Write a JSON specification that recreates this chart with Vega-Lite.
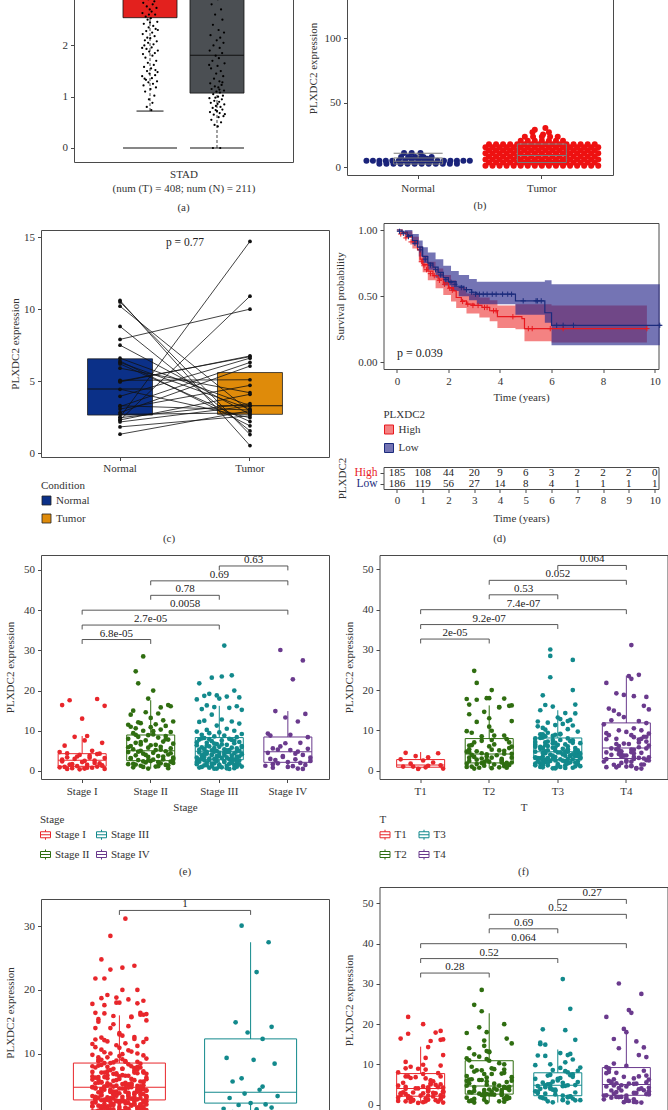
{
"$schema": "https://vega.github.io/schema/vega-lite/v6.json",
"padding": {"left": 3, "top": -40, "right": 0, "bottom": 0},
"background": "white",
"config": {
  "font": "Liberation Serif",
  "view": {"stroke": "#4a4a4a", "strokeWidth": 1},
  "axis": {"domain": false, "grid": false, "ticks": true, "tickSize": 3.5, "tickColor": "#4a4a4a", "tickWidth": 1, "labelFontSize": 11, "labelColor": "#333333", "labelPadding": 3, "titleFontSize": 11, "titleFontWeight": "normal", "titleColor": "#333333", "titlePadding": 5},
  "axisX": {"labelAngle": 0},
  "legend": {"titleFontSize": 11, "titleFontWeight": "normal", "titleColor": "#333333", "labelFontSize": 11, "labelColor": "#333333", "titlePadding": 4, "rowPadding": 5, "padding": 0, "symbolStrokeWidth": 1},
  "title": {"fontSize": 11, "fontWeight": "normal", "color": "#333333"}
},
"datasets": {
  "aBox": [{"g":"T","q1":2.54,"q3":3.6,"med":3.25,"lo":0.72},{"g":"N","q1":1.07,"q3":3.5,"med":1.81,"lo":0}],
  "aPts": [
{"g":"T","v":0.74,"j":0.5},{"g":"T","v":0.8,"j":-1.2},{"g":"T","v":0.88,"j":0.9},{"g":"T","v":0.95,"j":-0.4},{"g":"T","v":1.02,"j":1.6},{"g":"T","v":1.1,"j":-1.8},{"g":"T","v":1.15,"j":0.2},{"g":"T","v":1.18,"j":2.2},{"g":"T","v":1.22,"j":-2.4},{"g":"T","v":1.25,"j":1.1},{"g":"T","v":1.28,"j":-0.6},{"g":"T","v":1.3,"j":2.6},{"g":"T","v":1.33,"j":-1.5},{"g":"T","v":1.36,"j":0.7},{"g":"T","v":1.4,"j":-2.9},{"g":"T","v":1.42,"j":1.9},{"g":"T","v":1.45,"j":-0.2},{"g":"T","v":1.48,"j":2.8},{"g":"T","v":1.5,"j":-1.1},{"g":"T","v":1.55,"j":0.4},{"g":"T","v":1.58,"j":-2.2},{"g":"T","v":1.62,"j":1.4},{"g":"T","v":1.66,"j":-0.8},{"g":"T","v":1.7,"j":2.3},{"g":"T","v":1.76,"j":-1.7},{"g":"T","v":1.8,"j":0.9},{"g":"T","v":1.83,"j":-2.6},{"g":"T","v":1.85,"j":1.8},{"g":"T","v":1.88,"j":-0.3},{"g":"T","v":1.9,"j":2.9},{"g":"T","v":1.93,"j":-1.3},{"g":"T","v":1.96,"j":0.6},{"g":"T","v":2.0,"j":-2.1},{"g":"T","v":2.02,"j":1.3},{"g":"T","v":2.05,"j":-0.7},{"g":"T","v":2.08,"j":2.5},{"g":"T","v":2.1,"j":-1.9},{"g":"T","v":2.14,"j":0.1},{"g":"T","v":2.18,"j":1.7},{"g":"T","v":2.22,"j":-2.7},{"g":"T","v":2.25,"j":0.8},{"g":"T","v":2.28,"j":-1.4},{"g":"T","v":2.32,"j":2.1},{"g":"T","v":2.35,"j":-0.5},{"g":"T","v":2.38,"j":1.2},{"g":"T","v":2.42,"j":-2.3},{"g":"T","v":2.46,"j":2.7},{"g":"T","v":2.5,"j":-0.9},{"g":"T","v":2.53,"j":0.3},{"g":"T","v":2.56,"j":-1.6},{"g":"T","v":2.6,"j":1.9},{"g":"T","v":2.63,"j":-2.8},{"g":"T","v":2.66,"j":0.6},{"g":"T","v":2.7,"j":-0.1},{"g":"T","v":2.73,"j":2.4},{"g":"T","v":2.76,"j":-1.2},{"g":"T","v":2.8,"j":1.0},{"g":"T","v":2.83,"j":-2.5},{"g":"T","v":2.86,"j":1.6},{"g":"T","v":2.9,"j":-0.6},{"g":"T","v":2.95,"j":2.2},{"g":"T","v":3.0,"j":-1.8},{"g":"T","v":3.1,"j":0.5},{"g":"T","v":3.2,"j":-2.0},{"g":"T","v":3.3,"j":1.5},{"g":"T","v":1.52,"j":2.0},{"g":"T","v":1.95,"j":-2.9},{"g":"T","v":2.3,"j":2.9},{"g":"T","v":2.6,"j":-0.4},{"g":"T","v":2.15,"j":-1.0},{"g":"T","v":1.35,"j":-2.0},{"g":"T","v":2.45,"j":0.0},
{"g":"N","v":0,"j":-1.5},{"g":"N","v":0,"j":1.2},{"g":"N","v":0.42,"j":0.3},{"g":"N","v":0.45,"j":-0.9},{"g":"N","v":0.5,"j":1.5},{"g":"N","v":0.55,"j":-2.1},{"g":"N","v":0.6,"j":0.6},{"g":"N","v":0.62,"j":2.4},{"g":"N","v":0.65,"j":-1.2},{"g":"N","v":0.68,"j":1.0},{"g":"N","v":0.7,"j":-2.6},{"g":"N","v":0.72,"j":0.0},{"g":"N","v":0.75,"j":2.0},{"g":"N","v":0.78,"j":-1.6},{"g":"N","v":0.8,"j":1.3},{"g":"N","v":0.82,"j":-0.4},{"g":"N","v":0.85,"j":2.7},{"g":"N","v":0.88,"j":-2.3},{"g":"N","v":0.9,"j":0.8},{"g":"N","v":0.92,"j":-1.0},{"g":"N","v":0.95,"j":1.8},{"g":"N","v":0.97,"j":-2.8},{"g":"N","v":1.0,"j":0.4},{"g":"N","v":1.02,"j":2.2},{"g":"N","v":1.05,"j":-1.4},{"g":"N","v":1.08,"j":1.1},{"g":"N","v":1.1,"j":-0.2},{"g":"N","v":1.12,"j":2.6},{"g":"N","v":1.15,"j":-2.0},{"g":"N","v":1.18,"j":0.5},{"g":"N","v":1.2,"j":-0.8},{"g":"N","v":1.23,"j":1.7},{"g":"N","v":1.26,"j":-2.5},{"g":"N","v":1.3,"j":0.9},{"g":"N","v":1.35,"j":-1.1},{"g":"N","v":1.4,"j":2.3},{"g":"N","v":1.45,"j":-0.3},{"g":"N","v":1.5,"j":1.4},{"g":"N","v":1.55,"j":-2.2},{"g":"N","v":1.6,"j":0.2},{"g":"N","v":1.65,"j":2.8},{"g":"N","v":1.7,"j":-1.7},{"g":"N","v":1.75,"j":0.7},{"g":"N","v":1.8,"j":-0.5},{"g":"N","v":1.85,"j":1.9},{"g":"N","v":1.9,"j":-2.7},{"g":"N","v":1.95,"j":1.0},{"g":"N","v":2.0,"j":-1.3},{"g":"N","v":2.05,"j":2.4},{"g":"N","v":2.1,"j":-0.1},{"g":"N","v":2.15,"j":1.2},{"g":"N","v":2.2,"j":-2.4},{"g":"N","v":2.3,"j":0.6},{"g":"N","v":2.4,"j":-1.5},{"g":"N","v":2.5,"j":2.0},{"g":"N","v":2.6,"j":-0.7},{"g":"N","v":2.7,"j":1.5},{"g":"N","v":2.8,"j":-2.0},{"g":"N","v":2.9,"j":0.3},{"g":"N","v":3.0,"j":-1.0},{"g":"N","v":3.2,"j":1.8},{"g":"N","v":3.4,"j":-0.4},{"g":"N","v":0.98,"j":-0.6},{"g":"N","v":0.86,"j":0.2},{"g":"N","v":0.74,"j":-0.5},{"g":"N","v":1.14,"j":0.9},{"g":"N","v":1.28,"j":2.0},{"g":"N","v":0.66,"j":2.9},{"g":"N","v":1.62,"j":-2.9},{"g":"N","v":2.25,"j":2.6}
  ],
  "bPts": [
{"g":"N","v":10.8,"j":-2.4},{"g":"N","v":10.8,"j":-1.1},{"g":"N","v":10.8,"j":0.4},{"g":"N","v":7.8,"j":-2.9},{"g":"N","v":7.8,"j":-1.7},{"g":"N","v":7.8,"j":-0.5},{"g":"N","v":7.8,"j":0.9},{"g":"N","v":7.8,"j":2.3},{"g":"N","v":6.4,"j":-1.1},{"g":"N","v":6.4,"j":0.2},{"g":"N","v":6.4,"j":1.5},
{"g":"N","v":4.9,"j":-8.8},{"g":"N","v":4.9,"j":-7.7},{"g":"N","v":4.9,"j":-6.6},{"g":"N","v":4.9,"j":-5.5},{"g":"N","v":4.9,"j":-4.4},{"g":"N","v":4.9,"j":-3.3},{"g":"N","v":4.9,"j":-2.2},{"g":"N","v":4.9,"j":-1.1},{"g":"N","v":4.9,"j":0},{"g":"N","v":4.9,"j":1.1},{"g":"N","v":4.9,"j":2.2},{"g":"N","v":4.9,"j":3.3},{"g":"N","v":4.9,"j":4.4},{"g":"N","v":4.9,"j":5.5},{"g":"N","v":4.9,"j":6.6},{"g":"N","v":4.9,"j":7.7},{"g":"N","v":4.9,"j":8.8},
{"g":"N","v":2.5,"j":-6.6},{"g":"N","v":2.5,"j":-5.4},{"g":"N","v":2.5,"j":-4.2},{"g":"N","v":2.5,"j":-3.0},{"g":"N","v":2.5,"j":-1.8},{"g":"N","v":2.5,"j":-0.6},{"g":"N","v":2.5,"j":0.6},{"g":"N","v":2.5,"j":1.8},{"g":"N","v":2.5,"j":3.0},{"g":"N","v":2.5,"j":4.2},{"g":"N","v":2.5,"j":5.4},{"g":"N","v":2.5,"j":6.6},
{"g":"T","v":1.0,"j":-9.6},{"g":"T","v":1.0,"j":-8.4},{"g":"T","v":1.0,"j":-7.2},{"g":"T","v":1.0,"j":-6},{"g":"T","v":1.0,"j":-4.8},{"g":"T","v":1.0,"j":-3.6},{"g":"T","v":1.0,"j":-2.4},{"g":"T","v":1.0,"j":-1.2},{"g":"T","v":1.0,"j":0},{"g":"T","v":1.0,"j":1.2},{"g":"T","v":1.0,"j":2.4},{"g":"T","v":1.0,"j":3.6},{"g":"T","v":1.0,"j":4.8},{"g":"T","v":1.0,"j":6},{"g":"T","v":1.0,"j":7.2},{"g":"T","v":1.0,"j":8.4},{"g":"T","v":1.0,"j":9.6},
{"g":"T","v":3.4,"j":-9},{"g":"T","v":3.4,"j":-7.8},{"g":"T","v":3.4,"j":-6.6},{"g":"T","v":3.4,"j":-5.4},{"g":"T","v":3.4,"j":-4.2},{"g":"T","v":3.4,"j":-3},{"g":"T","v":3.4,"j":-1.8},{"g":"T","v":3.4,"j":-0.6},{"g":"T","v":3.4,"j":0.6},{"g":"T","v":3.4,"j":1.8},{"g":"T","v":3.4,"j":3},{"g":"T","v":3.4,"j":4.2},{"g":"T","v":3.4,"j":5.4},{"g":"T","v":3.4,"j":6.6},{"g":"T","v":3.4,"j":7.8},{"g":"T","v":3.4,"j":9},
{"g":"T","v":5.8,"j":-9.6},{"g":"T","v":5.8,"j":-8.4},{"g":"T","v":5.8,"j":-7.2},{"g":"T","v":5.8,"j":-6},{"g":"T","v":5.8,"j":-4.8},{"g":"T","v":5.8,"j":-3.6},{"g":"T","v":5.8,"j":-2.4},{"g":"T","v":5.8,"j":-1.2},{"g":"T","v":5.8,"j":0},{"g":"T","v":5.8,"j":1.2},{"g":"T","v":5.8,"j":2.4},{"g":"T","v":5.8,"j":3.6},{"g":"T","v":5.8,"j":4.8},{"g":"T","v":5.8,"j":6},{"g":"T","v":5.8,"j":7.2},{"g":"T","v":5.8,"j":8.4},{"g":"T","v":5.8,"j":9.6},
{"g":"T","v":8.2,"j":-9},{"g":"T","v":8.2,"j":-7.8},{"g":"T","v":8.2,"j":-6.6},{"g":"T","v":8.2,"j":-5.4},{"g":"T","v":8.2,"j":-4.2},{"g":"T","v":8.2,"j":-3},{"g":"T","v":8.2,"j":-1.8},{"g":"T","v":8.2,"j":-0.6},{"g":"T","v":8.2,"j":0.6},{"g":"T","v":8.2,"j":1.8},{"g":"T","v":8.2,"j":3},{"g":"T","v":8.2,"j":4.2},{"g":"T","v":8.2,"j":5.4},{"g":"T","v":8.2,"j":6.6},{"g":"T","v":8.2,"j":7.8},{"g":"T","v":8.2,"j":9},
{"g":"T","v":10.6,"j":-9.6},{"g":"T","v":10.6,"j":-8.4},{"g":"T","v":10.6,"j":-7.2},{"g":"T","v":10.6,"j":-6},{"g":"T","v":10.6,"j":-4.8},{"g":"T","v":10.6,"j":-3.6},{"g":"T","v":10.6,"j":-2.4},{"g":"T","v":10.6,"j":-1.2},{"g":"T","v":10.6,"j":0},{"g":"T","v":10.6,"j":1.2},{"g":"T","v":10.6,"j":2.4},{"g":"T","v":10.6,"j":3.6},{"g":"T","v":10.6,"j":4.8},{"g":"T","v":10.6,"j":6},{"g":"T","v":10.6,"j":7.2},{"g":"T","v":10.6,"j":8.4},{"g":"T","v":10.6,"j":9.6},
{"g":"T","v":13.0,"j":-9},{"g":"T","v":13.0,"j":-7.8},{"g":"T","v":13.0,"j":-6.6},{"g":"T","v":13.0,"j":-5.4},{"g":"T","v":13.0,"j":-4.2},{"g":"T","v":13.0,"j":-3},{"g":"T","v":13.0,"j":-1.8},{"g":"T","v":13.0,"j":-0.6},{"g":"T","v":13.0,"j":0.6},{"g":"T","v":13.0,"j":1.8},{"g":"T","v":13.0,"j":3},{"g":"T","v":13.0,"j":4.2},{"g":"T","v":13.0,"j":5.4},{"g":"T","v":13.0,"j":6.6},{"g":"T","v":13.0,"j":7.8},{"g":"T","v":13.0,"j":9},
{"g":"T","v":15.4,"j":-9.6},{"g":"T","v":15.4,"j":-8.4},{"g":"T","v":15.4,"j":-7.2},{"g":"T","v":15.4,"j":-6},{"g":"T","v":15.4,"j":-4.8},{"g":"T","v":15.4,"j":-3.6},{"g":"T","v":15.4,"j":-2.4},{"g":"T","v":15.4,"j":-1.2},{"g":"T","v":15.4,"j":0},{"g":"T","v":15.4,"j":1.2},{"g":"T","v":15.4,"j":2.4},{"g":"T","v":15.4,"j":3.6},{"g":"T","v":15.4,"j":4.8},{"g":"T","v":15.4,"j":6},{"g":"T","v":15.4,"j":7.2},{"g":"T","v":15.4,"j":8.4},{"g":"T","v":15.4,"j":9.6},
{"g":"T","v":17.6,"j":-9},{"g":"T","v":17.6,"j":-7.8},{"g":"T","v":17.6,"j":-6.6},{"g":"T","v":17.6,"j":-5.4},{"g":"T","v":17.6,"j":-4.2},{"g":"T","v":17.6,"j":-3},{"g":"T","v":17.6,"j":-1.8},{"g":"T","v":17.6,"j":-0.6},{"g":"T","v":17.6,"j":0.6},{"g":"T","v":17.6,"j":1.8},{"g":"T","v":17.6,"j":3},{"g":"T","v":17.6,"j":4.2},{"g":"T","v":17.6,"j":5.4},{"g":"T","v":17.6,"j":6.6},{"g":"T","v":17.6,"j":7.8},{"g":"T","v":17.6,"j":9},
{"g":"T","v":20.4,"j":-3.6},{"g":"T","v":20.4,"j":-2.4},{"g":"T","v":20.4,"j":-1.2},{"g":"T","v":20.4,"j":0},{"g":"T","v":20.4,"j":1.2},{"g":"T","v":20.4,"j":2.4},{"g":"T","v":20.4,"j":3.6},
{"g":"T","v":23.5,"j":-2.9},{"g":"T","v":23.5,"j":-1.5},{"g":"T","v":23.5,"j":0},{"g":"T","v":23.5,"j":1.4},{"g":"T","v":23.5,"j":2.7},
{"g":"T","v":25.2,"j":0.2},{"g":"T","v":27.0,"j":-1.6},{"g":"T","v":27.0,"j":1.2},{"g":"T","v":28.9,"j":-1.2},{"g":"T","v":30.2,"j":0.6}
  ],
  "bBox": [{"g":"N","q1":2.3,"med":4.5,"q3":7.0,"hi":10.6},{"g":"T","q1":3.5,"med":9,"q3":17.8,"hi":17.8}],
  "cBox": [{"g":"Normal","q1":2.65,"med":4.45,"q3":6.55},{"g":"Tumor","q1":2.7,"med":3.3,"q3":5.6}],
  "cPts": [
{"p":1,"g":"Normal","v":2.5},{"p":1,"g":"Tumor","v":14.7},{"p":2,"g":"Normal","v":2.3},{"p":2,"g":"Tumor","v":10.9},{"p":3,"g":"Normal","v":7.9},{"p":3,"g":"Tumor","v":10.0},{"p":4,"g":"Normal","v":10.6},{"p":4,"g":"Tumor","v":0.53},{"p":5,"g":"Normal","v":10.5},{"p":5,"g":"Tumor","v":1.3},{"p":6,"g":"Normal","v":10.2},{"p":6,"g":"Tumor","v":2.9},{"p":7,"g":"Normal","v":8.8},{"p":7,"g":"Tumor","v":1.55},{"p":8,"g":"Normal","v":7.5},{"p":8,"g":"Tumor","v":2.7},{"p":9,"g":"Normal","v":6.6},{"p":9,"g":"Tumor","v":3.3},{"p":10,"g":"Normal","v":6.4},{"p":10,"g":"Tumor","v":1.9},{"p":11,"g":"Normal","v":6.3},{"p":11,"g":"Tumor","v":3.07},{"p":12,"g":"Normal","v":5.9},{"p":12,"g":"Tumor","v":4.2},{"p":13,"g":"Normal","v":5.06},{"p":13,"g":"Tumor","v":5.1},{"p":14,"g":"Normal","v":4.95},{"p":14,"g":"Tumor","v":6.75},{"p":15,"g":"Normal","v":4.44},{"p":15,"g":"Tumor","v":2.47},{"p":16,"g":"Normal","v":3.95},{"p":16,"g":"Tumor","v":6.6},{"p":17,"g":"Normal","v":3.24},{"p":17,"g":"Tumor","v":6.3},{"p":18,"g":"Normal","v":3.07},{"p":18,"g":"Tumor","v":4.71},{"p":19,"g":"Normal","v":2.82},{"p":19,"g":"Tumor","v":6.05},{"p":20,"g":"Normal","v":2.7},{"p":20,"g":"Tumor","v":2.8},{"p":21,"g":"Normal","v":2.47},{"p":21,"g":"Tumor","v":3.44},{"p":22,"g":"Normal","v":2.31},{"p":22,"g":"Tumor","v":4.09},{"p":23,"g":"Normal","v":2.17},{"p":23,"g":"Tumor","v":3.28},{"p":24,"g":"Normal","v":1.83},{"p":24,"g":"Tumor","v":2.6},{"p":25,"g":"Normal","v":1.32},{"p":25,"g":"Tumor","v":2.95},{"p":26,"g":"Normal","v":6.2},{"p":26,"g":"Tumor","v":2.2},{"p":27,"g":"Normal","v":3.3},{"p":27,"g":"Tumor","v":3.0},{"p":28,"g":"Normal","v":5.0},{"p":28,"g":"Tumor","v":6.7}
  ],
  "km": [
{"g":"High","t":0,"s":1},{"g":"High","t":0.2,"s":0.98},{"g":"High","t":0.4,"s":0.95},{"g":"High","t":0.6,"s":0.91},{"g":"High","t":0.8,"s":0.85},{"g":"High","t":0.9,"s":0.78},{"g":"High","t":1.0,"s":0.74},{"g":"High","t":1.2,"s":0.69},{"g":"High","t":1.4,"s":0.655},{"g":"High","t":1.6,"s":0.63},{"g":"High","t":1.8,"s":0.6},{"g":"High","t":2.0,"s":0.565},{"g":"High","t":2.2,"s":0.54},{"g":"High","t":2.3,"s":0.49},{"g":"High","t":2.5,"s":0.465},{"g":"High","t":2.7,"s":0.44},{"g":"High","t":3.0,"s":0.43},{"g":"High","t":3.3,"s":0.415},{"g":"High","t":3.6,"s":0.39},{"g":"High","t":3.9,"s":0.345},{"g":"High","t":4.85,"s":0.33},{"g":"High","t":4.95,"s":0.255},{"g":"High","t":9.7,"s":0.255},
{"g":"Low","t":0,"s":1},{"g":"Low","t":0.2,"s":0.985},{"g":"Low","t":0.4,"s":0.96},{"g":"Low","t":0.6,"s":0.92},{"g":"Low","t":0.8,"s":0.87},{"g":"Low","t":1.0,"s":0.8},{"g":"Low","t":1.2,"s":0.75},{"g":"Low","t":1.4,"s":0.72},{"g":"Low","t":1.6,"s":0.68},{"g":"Low","t":1.8,"s":0.64},{"g":"Low","t":2.0,"s":0.61},{"g":"Low","t":2.3,"s":0.575},{"g":"Low","t":2.6,"s":0.55},{"g":"Low","t":2.9,"s":0.53},{"g":"Low","t":3.1,"s":0.515},{"g":"Low","t":4.6,"s":0.465},{"g":"Low","t":5.74,"s":0.375},{"g":"Low","t":6.0,"s":0.28},{"g":"Low","t":10.27,"s":0.28}
  ],
  "kmBand": [
{"g":"High","t":0,"lo":1,"hi":1},{"g":"High","t":0.3,"lo":0.94,"hi":0.99},{"g":"High","t":0.6,"lo":0.86,"hi":0.95},{"g":"High","t":0.85,"lo":0.76,"hi":0.88},{"g":"High","t":1.0,"lo":0.68,"hi":0.81},{"g":"High","t":1.2,"lo":0.62,"hi":0.76},{"g":"High","t":1.5,"lo":0.56,"hi":0.71},{"g":"High","t":1.8,"lo":0.51,"hi":0.66},{"g":"High","t":2.1,"lo":0.46,"hi":0.62},{"g":"High","t":2.3,"lo":0.41,"hi":0.57},{"g":"High","t":2.7,"lo":0.37,"hi":0.52},{"g":"High","t":3.2,"lo":0.34,"hi":0.49},{"g":"High","t":3.6,"lo":0.31,"hi":0.47},{"g":"High","t":3.9,"lo":0.26,"hi":0.43},{"g":"High","t":4.6,"lo":0.25,"hi":0.44},{"g":"High","t":4.95,"lo":0.16,"hi":0.44},{"g":"High","t":6.0,"lo":0.15,"hi":0.43},{"g":"High","t":9.7,"lo":0.15,"hi":0.43},
{"g":"Low","t":0,"lo":1,"hi":1},{"g":"Low","t":0.3,"lo":0.96,"hi":1.0},{"g":"Low","t":0.6,"lo":0.89,"hi":0.97},{"g":"Low","t":0.85,"lo":0.8,"hi":0.92},{"g":"Low","t":1.0,"lo":0.75,"hi":0.87},{"g":"Low","t":1.2,"lo":0.7,"hi":0.83},{"g":"Low","t":1.5,"lo":0.64,"hi":0.78},{"g":"Low","t":1.8,"lo":0.58,"hi":0.73},{"g":"Low","t":2.1,"lo":0.54,"hi":0.69},{"g":"Low","t":2.4,"lo":0.5,"hi":0.66},{"g":"Low","t":2.8,"lo":0.47,"hi":0.63},{"g":"Low","t":3.1,"lo":0.44,"hi":0.61},{"g":"Low","t":4.6,"lo":0.36,"hi":0.61},{"g":"Low","t":5.74,"lo":0.3,"hi":0.62},{"g":"Low","t":6.0,"lo":0.13,"hi":0.59},{"g":"Low","t":10.2,"lo":0.13,"hi":0.59}
  ],
  "kcH": [{"t":0.15,"s":0.97},{"t":0.35,"s":0.94},{"t":0.55,"s":0.91},{"t":0.95,"s":0.76},{"t":1.05,"s":0.73},{"t":1.15,"s":0.7},{"t":1.3,"s":0.67},{"t":1.45,"s":0.655},{"t":1.65,"s":0.62},{"t":1.85,"s":0.59},{"t":2.05,"s":0.56},{"t":2.15,"s":0.545},{"t":2.55,"s":0.46},{"t":2.75,"s":0.44},{"t":2.95,"s":0.43},{"t":3.15,"s":0.43},{"t":3.4,"s":0.415},{"t":3.5,"s":0.415},{"t":3.75,"s":0.39},{"t":3.85,"s":0.39},{"t":4.5,"s":0.345},{"t":5.1,"s":0.255},{"t":5.25,"s":0.255},{"t":5.95,"s":0.255},{"t":6.45,"s":0.255},{"t":9.7,"s":0.255}],
  "kcL": [{"t":0.1,"s":0.99},{"t":0.25,"s":0.975},{"t":0.45,"s":0.95},{"t":0.7,"s":0.9},{"t":0.9,"s":0.85},{"t":1.1,"s":0.78},{"t":1.3,"s":0.735},{"t":1.5,"s":0.7},{"t":1.7,"s":0.66},{"t":1.9,"s":0.625},{"t":2.1,"s":0.605},{"t":2.25,"s":0.59},{"t":2.5,"s":0.565},{"t":2.7,"s":0.55},{"t":2.9,"s":0.53},{"t":3.05,"s":0.515},{"t":3.2,"s":0.515},{"t":3.35,"s":0.515},{"t":3.5,"s":0.515},{"t":3.7,"s":0.515},{"t":3.85,"s":0.515},{"t":4.1,"s":0.515},{"t":4.3,"s":0.515},{"t":4.45,"s":0.515},{"t":4.9,"s":0.465},{"t":5.4,"s":0.465},{"t":5.45,"s":0.465},{"t":5.6,"s":0.465},{"t":6.2,"s":0.28},{"t":6.45,"s":0.28},{"t":6.85,"s":0.28},{"t":10.2,"s":0.28}],
  "risk": [
{"g":"High","t":0,"n":185},{"g":"High","t":1,"n":108},{"g":"High","t":2,"n":44},{"g":"High","t":3,"n":20},{"g":"High","t":4,"n":9},{"g":"High","t":5,"n":6},{"g":"High","t":6,"n":3},{"g":"High","t":7,"n":2},{"g":"High","t":8,"n":2},{"g":"High","t":9,"n":2},{"g":"High","t":10,"n":0},
{"g":"Low","t":0,"n":186},{"g":"Low","t":1,"n":119},{"g":"Low","t":2,"n":56},{"g":"Low","t":3,"n":27},{"g":"Low","t":4,"n":14},{"g":"Low","t":5,"n":8},{"g":"Low","t":6,"n":4},{"g":"Low","t":7,"n":1},{"g":"Low","t":8,"n":1},{"g":"Low","t":9,"n":1},{"g":"Low","t":10,"n":1}
  ],
  "pt": [
{"v":4.4,"s":"I","t":1,"n":0,"m":0,"j":-6},{"v":4.3,"s":"I","t":1,"n":0,"m":0,"j":7},{"v":3.6,"s":"I","t":1,"n":1,"m":0,"j":-2},{"v":3.3,"s":"I","t":1,"n":0,"m":0,"j":3},{"v":2.8,"s":"I","t":1,"n":0,"m":0,"j":-8},{"v":2.5,"s":"I","t":1,"n":1,"m":0,"j":1},{"v":2.0,"s":"I","t":1,"n":0,"m":0,"j":5},{"v":1.7,"s":"I","t":1,"n":0,"m":0,"j":-4},{"v":1.3,"s":"I","t":1,"n":0,"m":0,"j":8},{"v":1.0,"s":"I","t":1,"n":1,"m":0,"j":-7},{"v":0.8,"s":"I","t":1,"n":0,"m":0,"j":2},{"v":0.5,"s":"I","t":1,"n":0,"m":0,"j":9},{"v":0.4,"s":"I","t":1,"n":0,"m":0,"j":-1},
{"v":17.6,"s":"I","t":2,"n":0,"m":0,"j":-5},{"v":17.9,"s":"I","t":2,"n":0,"m":0,"j":6},{"v":16.4,"s":"I","t":2,"n":0,"m":0,"j":-8},{"v":16.2,"s":"I","t":2,"n":0,"m":0,"j":9},{"v":13.0,"s":"I","t":2,"n":1,"m":0,"j":0},{"v":8.7,"s":"I","t":2,"n":0,"m":0,"j":2},{"v":8.5,"s":"I","t":2,"n":1,"m":0,"j":-3},{"v":7.6,"s":"I","t":2,"n":0,"m":0,"j":1},{"v":7.0,"s":"I","t":2,"n":0,"m":0,"j":8},{"v":6.3,"s":"I","t":2,"n":1,"m":0,"j":-7},{"v":5.0,"s":"I","t":2,"n":0,"m":0,"j":4},{"v":4.7,"s":"I","t":2,"n":0,"m":0,"j":-9},{"v":4.2,"s":"I","t":2,"n":1,"m":0,"j":6},{"v":4.0,"s":"I","t":2,"n":0,"m":0,"j":-1},{"v":3.8,"s":"I","t":2,"n":0,"m":0,"j":3},{"v":3.4,"s":"I","t":2,"n":1,"m":0,"j":-6},{"v":3.2,"s":"I","t":2,"n":0,"m":0,"j":9},{"v":3.0,"s":"I","t":2,"n":0,"m":0,"j":-3},{"v":2.6,"s":"I","t":2,"n":1,"m":0,"j":5},{"v":2.4,"s":"I","t":2,"n":0,"m":0,"j":-8},{"v":2.2,"s":"I","t":2,"n":0,"m":0,"j":0},{"v":1.9,"s":"I","t":2,"n":1,"m":0,"j":7},{"v":1.6,"s":"I","t":2,"n":0,"m":0,"j":-5},{"v":1.5,"s":"I","t":2,"n":0,"m":0,"j":2},{"v":1.2,"s":"I","t":2,"n":1,"m":0,"j":-2},{"v":1.1,"s":"I","t":2,"n":0,"m":0,"j":6},{"v":0.9,"s":"I","t":2,"n":0,"m":0,"j":-9},{"v":0.8,"s":"I","t":2,"n":1,"m":0,"j":4},{"v":0.7,"s":"I","t":2,"n":0,"m":0,"j":-4},{"v":0.6,"s":"I","t":2,"n":0,"m":0,"j":1},{"v":0.5,"s":"I","t":2,"n":1,"m":0,"j":-6},{"v":1.4,"s":"I","t":2,"n":0,"m":0,"j":8},
{"v":28.5,"s":"II","t":3,"n":1,"m":0,"j":-3},{"v":24.8,"s":"II","t":2,"n":1,"m":0,"j":-6},{"v":21.8,"s":"II","t":2,"n":0,"m":0,"j":-5},{"v":20.0,"s":"II","t":2,"n":0,"m":0,"j":1},{"v":18.0,"s":"II","t":2,"n":1,"m":0,"j":-1},{"v":16.4,"s":"II","t":3,"n":1,"m":0,"j":7},{"v":16.1,"s":"II","t":2,"n":0,"m":0,"j":8},{"v":15.0,"s":"II","t":3,"n":2,"m":0,"j":-7},{"v":14.6,"s":"II","t":2,"n":1,"m":0,"j":-2},{"v":14.3,"s":"II","t":3,"n":0,"m":0,"j":3},{"v":14.0,"s":"II","t":2,"n":1,"m":0,"j":-8},{"v":12.6,"s":"II","t":3,"n":2,"m":0,"j":5},{"v":12.3,"s":"II","t":2,"n":0,"m":0,"j":9},{"v":11.9,"s":"II","t":3,"n":1,"m":0,"j":-4},{"v":11.6,"s":"II","t":3,"n":0,"m":0,"j":2},{"v":11.5,"s":"II","t":4,"n":1,"m":0,"j":-9},{"v":11.2,"s":"II","t":3,"n":2,"m":0,"j":6},{"v":10.9,"s":"II","t":2,"n":1,"m":0,"j":0},{"v":10.6,"s":"II","t":3,"n":0,"m":0,"j":-6},{"v":10.3,"s":"II","t":3,"n":1,"m":0,"j":4},{"v":10.0,"s":"II","t":4,"n":2,"m":0,"j":-3},{"v":9.7,"s":"II","t":3,"n":0,"m":0,"j":8},{"v":9.4,"s":"II","t":2,"n":1,"m":0,"j":-7},{"v":9.1,"s":"II","t":3,"n":2,"m":0,"j":1},{"v":8.9,"s":"II","t":3,"n":0,"m":0,"j":-1},{"v":8.7,"s":"II","t":2,"n":1,"m":0,"j":6},{"v":8.5,"s":"II","t":3,"n":1,"m":0,"j":-5},{"v":8.3,"s":"II","t":4,"n":2,"m":0,"j":3},{"v":8.0,"s":"II","t":3,"n":0,"m":0,"j":-9},{"v":7.8,"s":"II","t":2,"n":0,"m":0,"j":7},{"v":7.6,"s":"II","t":3,"n":1,"m":0,"j":-2},{"v":7.3,"s":"II","t":3,"n":2,"m":0,"j":5},{"v":7.0,"s":"II","t":2,"n":0,"m":0,"j":-6},{"v":6.8,"s":"II","t":3,"n":1,"m":0,"j":9},{"v":6.6,"s":"II","t":4,"n":0,"m":0,"j":-4},{"v":6.4,"s":"II","t":3,"n":2,"m":0,"j":0},{"v":6.2,"s":"II","t":2,"n":1,"m":0,"j":-8},{"v":6.0,"s":"II","t":3,"n":0,"m":0,"j":4},{"v":5.8,"s":"II","t":3,"n":1,"m":0,"j":-1},{"v":5.6,"s":"II","t":2,"n":2,"m":0,"j":8},{"v":5.4,"s":"II","t":3,"n":0,"m":0,"j":-7},{"v":5.2,"s":"II","t":4,"n":1,"m":0,"j":2},{"v":5.0,"s":"II","t":3,"n":2,"m":0,"j":-4},{"v":4.9,"s":"II","t":2,"n":0,"m":0,"j":6},{"v":4.7,"s":"II","t":3,"n":1,"m":0,"j":-9},{"v":4.5,"s":"II","t":3,"n":0,"m":0,"j":1},{"v":4.3,"s":"II","t":2,"n":2,"m":0,"j":-3},{"v":4.1,"s":"II","t":3,"n":1,"m":0,"j":7},{"v":3.9,"s":"II","t":4,"n":0,"m":0,"j":-6},{"v":3.7,"s":"II","t":3,"n":1,"m":0,"j":3},{"v":3.5,"s":"II","t":2,"n":2,"m":0,"j":-1},{"v":3.3,"s":"II","t":3,"n":0,"m":0,"j":9},{"v":3.1,"s":"II","t":3,"n":1,"m":0,"j":-8},{"v":2.9,"s":"II","t":2,"n":0,"m":0,"j":5},{"v":2.7,"s":"II","t":3,"n":2,"m":0,"j":-5},{"v":2.5,"s":"II","t":4,"n":1,"m":0,"j":0},{"v":2.3,"s":"II","t":3,"n":0,"m":0,"j":8},{"v":2.1,"s":"II","t":2,"n":1,"m":0,"j":-2},{"v":1.9,"s":"II","t":3,"n":2,"m":0,"j":4},{"v":1.7,"s":"II","t":3,"n":0,"m":0,"j":-9},{"v":1.5,"s":"II","t":2,"n":1,"m":0,"j":6},{"v":1.3,"s":"II","t":3,"n":0,"m":0,"j":-4},{"v":1.1,"s":"II","t":4,"n":2,"m":0,"j":2},{"v":0.9,"s":"II","t":3,"n":1,"m":0,"j":-7},{"v":0.7,"s":"II","t":2,"n":0,"m":0,"j":7},{"v":0.6,"s":"II","t":3,"n":1,"m":0,"j":-1},{"v":1.2,"s":"II","t":1,"n":0,"m":0,"j":3},{"v":1.6,"s":"II","t":3,"n":2,"m":0,"j":-6},{"v":2.0,"s":"II","t":2,"n":0,"m":0,"j":9},{"v":2.4,"s":"II","t":3,"n":1,"m":0,"j":-3},{"v":2.8,"s":"II","t":3,"n":0,"m":0,"j":1},{"v":3.2,"s":"II","t":2,"n":2,"m":0,"j":-8},{"v":3.6,"s":"II","t":3,"n":1,"m":0,"j":5},{"v":4.0,"s":"II","t":4,"n":0,"m":0,"j":-2},{"v":4.4,"s":"II","t":3,"n":1,"m":0,"j":8},{"v":4.8,"s":"II","t":2,"n":2,"m":0,"j":-5},{"v":5.3,"s":"II","t":3,"n":0,"m":0,"j":4},{"v":5.9,"s":"II","t":3,"n":1,"m":0,"j":-9},{"v":6.5,"s":"II","t":2,"n":0,"m":0,"j":2},{"v":7.2,"s":"II","t":3,"n":2,"m":0,"j":-4},{"v":7.9,"s":"II","t":4,"n":1,"m":0,"j":6},{"v":9.0,"s":"II","t":3,"n":0,"m":0,"j":-6},{"v":13.2,"s":"II","t":3,"n":1,"m":0,"j":0},{"v":1.0,"s":"II","t":1,"n":0,"m":0,"j":-3},{"v":1.4,"s":"II","t":2,"n":1,"m":0,"j":7},{"v":1.8,"s":"II","t":3,"n":2,"m":0,"j":-7},{"v":2.2,"s":"II","t":3,"n":0,"m":0,"j":3},{"v":2.6,"s":"II","t":2,"n":1,"m":0,"j":-1},{"v":3.0,"s":"II","t":3,"n":0,"m":0,"j":9},{"v":12.1,"s":"II","t":2,"n":2,"m":0,"j":-5},{"v":15.8,"s":"II","t":2,"n":0,"m":0,"j":4},{"v":11.0,"s":"II","t":3,"n":1,"m":0,"j":-8},{"v":9.9,"s":"II","t":2,"n":0,"m":0,"j":1},
{"v":31.2,"s":"III","t":4,"n":2,"m":0,"j":2},{"v":23.8,"s":"III","t":4,"n":2,"m":0,"j":5},{"v":23.5,"s":"III","t":4,"n":3,"m":0,"j":1},{"v":23.2,"s":"III","t":3,"n":1,"m":0,"j":-3},{"v":21.8,"s":"III","t":4,"n":3,"m":0,"j":-8},{"v":20.0,"s":"III","t":3,"n":1,"m":0,"j":6},{"v":19.2,"s":"III","t":4,"n":1,"m":0,"j":-4},{"v":18.8,"s":"III","t":4,"n":3,"m":0,"j":-1},{"v":18.7,"s":"III","t":3,"n":2,"m":0,"j":-6},{"v":18.5,"s":"III","t":4,"n":2,"m":0,"j":3},{"v":18.3,"s":"III","t":4,"n":0,"m":0,"j":8},{"v":18.0,"s":"III","t":2,"n":3,"m":0,"j":0},{"v":17.8,"s":"III","t":2,"n":1,"m":0,"j":-9},{"v":16.3,"s":"III","t":3,"n":3,"m":0,"j":-5},{"v":16.1,"s":"III","t":4,"n":2,"m":0,"j":7},{"v":15.9,"s":"III","t":3,"n":1,"m":0,"j":-2},{"v":15.7,"s":"III","t":2,"n":3,"m":0,"j":4},{"v":15.4,"s":"III","t":4,"n":2,"m":0,"j":-7},{"v":15.2,"s":"III","t":4,"n":1,"m":0,"j":9},{"v":14.0,"s":"III","t":4,"n":3,"m":0,"j":-3},{"v":12.8,"s":"III","t":3,"n":2,"m":0,"j":1},{"v":12.5,"s":"III","t":4,"n":1,"m":0,"j":-6},{"v":12.3,"s":"III","t":4,"n":3,"m":0,"j":5},{"v":12.2,"s":"III","t":3,"n":2,"m":0,"j":-8},{"v":11.8,"s":"III","t":4,"n":3,"m":0,"j":8},{"v":11.3,"s":"III","t":3,"n":1,"m":0,"j":-1},{"v":10.5,"s":"III","t":4,"n":2,"m":0,"j":3},{"v":10.2,"s":"III","t":3,"n":3,"m":0,"j":-5},{"v":10.0,"s":"III","t":4,"n":1,"m":0,"j":6},{"v":9.8,"s":"III","t":2,"n":2,"m":0,"j":-9},{"v":9.6,"s":"III","t":4,"n":3,"m":0,"j":0},{"v":9.4,"s":"III","t":3,"n":0,"m":0,"j":-4},{"v":9.2,"s":"III","t":4,"n":2,"m":0,"j":9},{"v":9.0,"s":"III","t":3,"n":3,"m":0,"j":-7},{"v":8.8,"s":"III","t":4,"n":1,"m":0,"j":2},{"v":8.6,"s":"III","t":3,"n":2,"m":0,"j":-2},{"v":8.4,"s":"III","t":4,"n":3,"m":0,"j":7},{"v":8.2,"s":"III","t":3,"n":1,"m":0,"j":-6},
{"v":8.0,"s":"III","t":3,"n":2,"m":0,"j":4},{"v":7.8,"s":"III","t":4,"n":3,"m":0,"j":-8},{"v":7.6,"s":"III","t":3,"n":1,"m":0,"j":1},{"v":7.4,"s":"III","t":2,"n":2,"m":0,"j":-3},{"v":7.2,"s":"III","t":4,"n":3,"m":0,"j":8},{"v":7.0,"s":"III","t":3,"n":0,"m":0,"j":-5},{"v":6.9,"s":"III","t":3,"n":2,"m":0,"j":6},{"v":6.7,"s":"III","t":4,"n":1,"m":0,"j":-1},{"v":6.5,"s":"III","t":3,"n":3,"m":0,"j":3},{"v":6.4,"s":"III","t":3,"n":2,"m":0,"j":-9},{"v":6.2,"s":"III","t":4,"n":3,"m":0,"j":9},{"v":6.1,"s":"III","t":3,"n":1,"m":0,"j":-4},{"v":6.0,"s":"III","t":2,"n":2,"m":0,"j":0},{"v":5.9,"s":"III","t":3,"n":3,"m":0,"j":-7},{"v":5.8,"s":"III","t":4,"n":0,"m":0,"j":5},{"v":5.7,"s":"III","t":3,"n":2,"m":0,"j":-2},{"v":5.6,"s":"III","t":3,"n":1,"m":0,"j":7},{"v":5.5,"s":"III","t":4,"n":3,"m":0,"j":-6},{"v":5.4,"s":"III","t":3,"n":2,"m":0,"j":2},{"v":5.3,"s":"III","t":2,"n":1,"m":0,"j":-8},{"v":5.2,"s":"III","t":3,"n":3,"m":0,"j":4},{"v":5.1,"s":"III","t":4,"n":2,"m":0,"j":-3},{"v":5.0,"s":"III","t":3,"n":0,"m":0,"j":8},{"v":4.95,"s":"III","t":3,"n":1,"m":0,"j":-1},{"v":7.9,"s":"III","t":4,"n":3,"m":0,"j":-4},{"v":7.5,"s":"III","t":3,"n":2,"m":0,"j":6},{"v":7.1,"s":"III","t":3,"n":1,"m":0,"j":-9},{"v":6.6,"s":"III","t":4,"n":2,"m":0,"j":1},{"v":6.3,"s":"III","t":3,"n":3,"m":0,"j":-5},{"v":5.95,"s":"III","t":2,"n":1,"m":0,"j":9},{"v":5.45,"s":"III","t":3,"n":2,"m":0,"j":-6},{"v":5.15,"s":"III","t":4,"n":3,"m":0,"j":3},{"v":6.8,"s":"III","t":3,"n":0,"m":0,"j":-2},{"v":7.7,"s":"III","t":4,"n":1,"m":0,"j":5},{"v":8.1,"s":"III","t":3,"n":3,"m":0,"j":-7},
{"v":4.85,"s":"III","t":3,"n":2,"m":0,"j":7},{"v":4.8,"s":"III","t":4,"n":3,"m":0,"j":-2},{"v":4.7,"s":"III","t":3,"n":1,"m":0,"j":4},{"v":4.6,"s":"III","t":2,"n":2,"m":0,"j":-8},{"v":4.5,"s":"III","t":3,"n":3,"m":0,"j":0},{"v":4.4,"s":"III","t":4,"n":1,"m":0,"j":6},{"v":4.3,"s":"III","t":3,"n":2,"m":0,"j":-5},{"v":4.2,"s":"III","t":3,"n":0,"m":0,"j":9},{"v":4.1,"s":"III","t":4,"n":3,"m":0,"j":-3},{"v":4.0,"s":"III","t":3,"n":1,"m":0,"j":2},{"v":3.9,"s":"III","t":2,"n":2,"m":0,"j":-7},{"v":3.8,"s":"III","t":3,"n":3,"m":0,"j":5},{"v":3.7,"s":"III","t":4,"n":2,"m":0,"j":-1},{"v":3.6,"s":"III","t":3,"n":1,"m":0,"j":8},{"v":3.5,"s":"III","t":3,"n":3,"m":0,"j":-6},{"v":3.4,"s":"III","t":4,"n":0,"m":0,"j":3},{"v":3.3,"s":"III","t":3,"n":2,"m":0,"j":-9},{"v":3.2,"s":"III","t":2,"n":1,"m":0,"j":1},{"v":3.1,"s":"III","t":3,"n":3,"m":0,"j":-4},{"v":3.0,"s":"III","t":4,"n":2,"m":0,"j":7},{"v":2.95,"s":"III","t":3,"n":1,"m":0,"j":-2},{"v":2.9,"s":"III","t":3,"n":3,"m":0,"j":4},{"v":2.85,"s":"III","t":4,"n":2,"m":0,"j":-8},{"v":2.8,"s":"III","t":3,"n":0,"m":0,"j":6},{"v":4.75,"s":"III","t":3,"n":3,"m":0,"j":-5},{"v":4.55,"s":"III","t":4,"n":2,"m":0,"j":2},{"v":4.35,"s":"III","t":3,"n":1,"m":0,"j":-6},{"v":4.15,"s":"III","t":2,"n":3,"m":0,"j":9},{"v":3.95,"s":"III","t":3,"n":2,"m":0,"j":-3},{"v":3.75,"s":"III","t":4,"n":1,"m":0,"j":0},{"v":3.55,"s":"III","t":3,"n":3,"m":0,"j":7},{"v":3.35,"s":"III","t":3,"n":2,"m":0,"j":-1},{"v":3.15,"s":"III","t":4,"n":1,"m":0,"j":5},{"v":3.05,"s":"III","t":3,"n":0,"m":0,"j":-7},{"v":4.65,"s":"III","t":3,"n":2,"m":0,"j":3},
{"v":2.7,"s":"III","t":3,"n":1,"m":0,"j":-4},{"v":2.6,"s":"III","t":4,"n":3,"m":0,"j":8},{"v":2.5,"s":"III","t":3,"n":2,"m":0,"j":-1},{"v":2.4,"s":"III","t":2,"n":1,"m":0,"j":5},{"v":2.3,"s":"III","t":3,"n":3,"m":0,"j":-8},{"v":2.2,"s":"III","t":4,"n":2,"m":0,"j":2},{"v":2.1,"s":"III","t":3,"n":0,"m":0,"j":-5},{"v":2.0,"s":"III","t":3,"n":1,"m":0,"j":7},{"v":1.9,"s":"III","t":4,"n":3,"m":0,"j":-2},{"v":1.8,"s":"III","t":3,"n":2,"m":0,"j":4},{"v":1.7,"s":"III","t":2,"n":1,"m":0,"j":-9},{"v":1.6,"s":"III","t":3,"n":3,"m":0,"j":0},{"v":1.5,"s":"III","t":4,"n":2,"m":0,"j":6},{"v":1.4,"s":"III","t":3,"n":1,"m":0,"j":-6},{"v":1.3,"s":"III","t":3,"n":3,"m":0,"j":3},{"v":1.2,"s":"III","t":4,"n":0,"m":0,"j":-3},{"v":1.1,"s":"III","t":3,"n":2,"m":0,"j":9},{"v":1.0,"s":"III","t":2,"n":1,"m":0,"j":-7},{"v":0.9,"s":"III","t":3,"n":3,"m":0,"j":1},{"v":0.8,"s":"III","t":4,"n":2,"m":0,"j":-4},{"v":0.7,"s":"III","t":3,"n":1,"m":0,"j":6},{"v":0.6,"s":"III","t":3,"n":3,"m":0,"j":-1},{"v":0.5,"s":"III","t":4,"n":2,"m":0,"j":4},{"v":2.65,"s":"III","t":3,"n":0,"m":0,"j":-6},{"v":2.45,"s":"III","t":3,"n":1,"m":0,"j":2},{"v":2.25,"s":"III","t":4,"n":3,"m":0,"j":-9},{"v":2.05,"s":"III","t":3,"n":2,"m":0,"j":5},{"v":1.85,"s":"III","t":2,"n":3,"m":0,"j":-3},{"v":1.65,"s":"III","t":3,"n":1,"m":0,"j":8},{"v":1.45,"s":"III","t":4,"n":2,"m":0,"j":-5},{"v":1.25,"s":"III","t":3,"n":3,"m":0,"j":0},{"v":1.05,"s":"III","t":3,"n":2,"m":0,"j":7},{"v":0.85,"s":"III","t":4,"n":1,"m":0,"j":-8},{"v":0.65,"s":"III","t":3,"n":3,"m":0,"j":3},{"v":0.55,"s":"III","t":3,"n":2,"m":0,"j":-2},
{"v":30.1,"s":"IV","t":3,"n":3,"m":1,"j":-3},{"v":27.5,"s":"IV","t":3,"n":3,"m":1,"j":6},{"v":22.8,"s":"IV","t":4,"n":3,"m":1,"j":2},{"v":14.9,"s":"IV","t":4,"n":2,"m":1,"j":-5},{"v":14.2,"s":"IV","t":3,"n":3,"m":1,"j":7},{"v":13.3,"s":"IV","t":4,"n":1,"m":1,"j":-1},{"v":12.3,"s":"IV","t":3,"n":2,"m":1,"j":4},{"v":9.3,"s":"IV","t":4,"n":3,"m":1,"j":-8},{"v":9.0,"s":"IV","t":3,"n":1,"m":1,"j":1},{"v":8.4,"s":"IV","t":4,"n":2,"m":1,"j":8},{"v":5.6,"s":"IV","t":3,"n":3,"m":1,"j":-6},{"v":4.3,"s":"IV","t":4,"n":0,"m":1,"j":3},{"v":3.7,"s":"IV","t":3,"n":2,"m":1,"j":-2},{"v":3.3,"s":"IV","t":4,"n":3,"m":1,"j":9},{"v":3.0,"s":"IV","t":3,"n":1,"m":1,"j":-7},{"v":2.2,"s":"IV","t":4,"n":3,"m":1,"j":0},{"v":2.0,"s":"IV","t":2,"n":2,"m":1,"j":5},{"v":1.9,"s":"IV","t":3,"n":3,"m":1,"j":-4},{"v":1.5,"s":"IV","t":4,"n":1,"m":1,"j":7},{"v":1.3,"s":"IV","t":3,"n":3,"m":1,"j":-9},{"v":1.2,"s":"IV","t":4,"n":2,"m":1,"j":2},{"v":0.8,"s":"IV","t":3,"n":0,"m":1,"j":-6},{"v":0.5,"s":"IV","t":4,"n":3,"m":1,"j":6},{"v":6.1,"s":"IV","t":4,"n":1,"m":1,"j":-3},{"v":4.8,"s":"IV","t":3,"n":2,"m":1,"j":4},
{"v":8.8,"s":"IV","t":4,"n":3,"m":0,"j":-7},{"v":7.0,"s":"IV","t":4,"n":3,"m":0,"j":5},{"v":6.9,"s":"IV","t":3,"n":3,"m":0,"j":-1},{"v":5.5,"s":"IV","t":4,"n":3,"m":0,"j":8},{"v":5.3,"s":"IV","t":4,"n":3,"m":0,"j":-4},{"v":5.2,"s":"IV","t":2,"n":3,"m":0,"j":1},{"v":4.5,"s":"IV","t":4,"n":3,"m":0,"j":-8},{"v":4.0,"s":"IV","t":3,"n":3,"m":0,"j":6},{"v":3.5,"s":"IV","t":4,"n":3,"m":0,"j":-2},{"v":2.9,"s":"IV","t":4,"n":3,"m":0,"j":3},{"v":2.7,"s":"IV","t":2,"n":3,"m":0,"j":-5},{"v":2.5,"s":"IV","t":4,"n":3,"m":0,"j":9},{"v":1.7,"s":"IV","t":3,"n":3,"m":0,"j":-6},{"v":1.0,"s":"IV","t":4,"n":3,"m":0,"j":0},{"v":0.6,"s":"IV","t":4,"n":3,"m":0,"j":4}
  ],
  "eBox": [{"s":"I","lo":0.3,"q1":1.16,"med":2.64,"q3":4.3,"hi":8.7},{"s":"II","lo":0.6,"q1":2.56,"med":5.05,"q3":8.95,"hi":17.6},{"s":"III","lo":0.5,"q1":2.8,"med":4.9,"q3":8.3,"hi":16.2},{"s":"IV","lo":0.6,"q1":2.15,"med":4.8,"q3":8.45,"hi":14.9}],
  "eBr": [{"a":"I","b":"II","y":32.7,"yb":31.6,"lab":"6.8e-05","c":"I","k":"m"},{"a":"I","b":"III","y":36.3,"yb":35.2,"lab":"2.7e-05","c":"II","k":"c"},{"a":"I","b":"IV","y":40.0,"yb":38.9,"lab":"0.0058","c":"II","k":"m"},{"a":"II","b":"III","y":43.7,"yb":42.6,"lab":"0.78","c":"II","k":"m"},{"a":"II","b":"IV","y":47.3,"yb":46.2,"lab":"0.69","c":"III","k":"c"},{"a":"III","b":"IV","y":51.0,"yb":49.9,"lab":"0.63","c":"III","k":"m"}],
  "fBox": [{"t":1,"lo":0.4,"q1":0.83,"med":1.4,"q3":2.73,"hi":4.6},{"t":2,"lo":0.6,"q1":1.9,"med":4.1,"q3":7.95,"hi":16.2},{"t":3,"lo":0.5,"q1":2.73,"med":4.7,"q3":8.1,"hi":15.0},{"t":4,"lo":0.6,"q1":3.0,"med":5.6,"q3":11.85,"hi":23.6}],
  "fBr": [{"a":1,"b":2,"y":32.7,"yb":31.6,"lab":"2e-05","c":1,"k":"m"},{"a":1,"b":3,"y":36.3,"yb":35.2,"lab":"9.2e-07","c":2,"k":"c"},{"a":1,"b":4,"y":40.0,"yb":38.9,"lab":"7.4e-07","c":2,"k":"m"},{"a":2,"b":3,"y":43.7,"yb":42.6,"lab":"0.53","c":2,"k":"m"},{"a":2,"b":4,"y":47.3,"yb":46.2,"lab":"0.052","c":3,"k":"c"},{"a":3,"b":4,"y":51.0,"yb":49.9,"lab":"0.064","c":3,"k":"m"}],
  "gBox": [{"m":0,"lo":0.3,"q1":2.7,"med":4.7,"q3":8.5,"hi":16.0},{"m":1,"lo":0.5,"q1":2.2,"med":3.9,"q3":12.3,"hi":27.5}],
  "gBr": [{"a":0,"b":1,"y":32.5,"yb":31.8,"lab":"1","c":0,"k":"m"}],
  "hBox": [{"n":0,"lo":0.4,"q1":2.07,"med":4.0,"q3":7.7,"hi":14.4},{"n":1,"lo":0.5,"q1":2.6,"med":4.6,"q3":10.9,"hi":22.7},{"n":2,"lo":0.5,"q1":2.2,"med":4.8,"q3":7.9,"hi":13.7},{"n":3,"lo":0.5,"q1":2.3,"med":5.0,"q3":9.2,"hi":18.3}],
  "hBr": [{"a":0,"b":1,"y":32.7,"yb":31.6,"lab":"0.28","c":0,"k":"m"},{"a":0,"b":2,"y":36.3,"yb":35.2,"lab":"0.52","c":1,"k":"c"},{"a":0,"b":3,"y":40.0,"yb":38.9,"lab":"0.064","c":1,"k":"m"},{"a":1,"b":2,"y":43.7,"yb":42.6,"lab":"0.69","c":1,"k":"m"},{"a":1,"b":3,"y":47.3,"yb":46.2,"lab":"0.52","c":2,"k":"c"},{"a":2,"b":3,"y":51.0,"yb":49.9,"lab":"0.27","c":2,"k":"m"}]
},
"columns": 1,
"align": "none",
"spacing": 8,
"resolve": {"scale": {"color": "independent", "fill": "independent", "stroke": "independent"}},
"concat": [
{
 "concat": [
  {"width": 7.5, "height": 10, "data": {"values": []}, "mark": "point", "view": {"stroke": null}},
  {
   "width": 219, "height": 201,
   "title": {"text": "(a)", "orient": "bottom", "offset": 9},
   "resolve": {"scale": {"x": "independent"}},
   "layer": [
    {"layer": [
     {"data": {"name": "aBox"}, "mark": {"type": "bar", "stroke": "#111111", "strokeWidth": 0.8, "width": 54},
      "encoding": {
       "x": {"field": "g", "type": "nominal", "sort": ["T","N"], "scale": {"type": "band", "paddingInner": 0.194, "paddingOuter": 0.732}, "axis": {"labels": false, "ticks": false, "title": ["STAD", "(num (T) = 408; num (N) = 211)"], "titlePadding": 6, "titleLineHeight": 14}},
       "y": {"field": "q1", "type": "quantitative", "scale": {"domain": [-0.273, 3.645], "nice": false, "zero": false}, "axis": {"title": null, "values": [0,1,2,3], "format": "d"}},
       "y2": {"field": "q3"},
       "fill": {"field": "g", "type": "nominal", "scale": {"domain": ["T","N"], "range": ["#E3211E", "#4B4F53"]}, "legend": null}
      }},
     {"data": {"name": "aBox"}, "mark": {"type": "tick", "color": "#111111", "thickness": 1, "size": 54, "opacity": 1},
      "encoding": {"x": {"field": "g", "type": "nominal", "sort": ["T","N"]}, "y": {"field": "med", "type": "quantitative"}}},
     {"data": {"name": "aBox"}, "mark": {"type": "rule", "color": "#111111", "strokeDash": [3,2], "strokeWidth": 0.8},
      "encoding": {"x": {"field": "g", "type": "nominal", "sort": ["T","N"]}, "y": {"field": "lo", "type": "quantitative"}, "y2": {"field": "q1"}}},
     {"data": {"values": [{"g":"T","v":0.72}]}, "mark": {"type": "tick", "color": "#111111", "thickness": 1, "size": 27, "opacity": 1},
      "encoding": {"x": {"field": "g", "type": "nominal", "sort": ["T","N"]}, "y": {"field": "v", "type": "quantitative"}}},
     {"data": {"values": [{"g":"T","v":0},{"g":"N","v":0}]}, "mark": {"type": "tick", "color": "#111111", "thickness": 1.2, "size": 54, "opacity": 1},
      "encoding": {"x": {"field": "g", "type": "nominal", "sort": ["T","N"]}, "y": {"field": "v", "type": "quantitative"}}}
    ]},
    {"data": {"name": "aPts"}, "transform": [{"filter": "datum.g == 'T'"}], "mark": {"type": "circle", "color": "#000000", "size": 5, "opacity": 1},
     "encoding": {"x": {"field": "j", "type": "quantitative", "scale": {"domain": [-28.15, 52.96], "nice": false, "zero": false}, "axis": null}, "y": {"field": "v", "type": "quantitative"}}},
    {"data": {"name": "aPts"}, "transform": [{"filter": "datum.g == 'N'"}], "mark": {"type": "circle", "color": "#000000", "size": 5, "opacity": 1},
     "encoding": {"x": {"field": "j", "type": "quantitative", "scale": {"domain": [-52.96, 28.15], "nice": false, "zero": false}, "axis": null}, "y": {"field": "v", "type": "quantitative"}}}
   ]
  },
  {
   "width": 266, "height": 214,
   "title": {"text": "(b)", "orient": "bottom", "offset": 6},
   "resolve": {"scale": {"x": "independent"}},
   "layer": [
    {"data": {"name": "bPts"}, "transform": [{"filter": "datum.g == 'N'"}], "mark": {"type": "circle", "size": 36, "opacity": 1, "color": "#1A237A"},
     "encoding": {
      "x": {"field": "j", "type": "quantitative", "scale": {"domain": [-12.11, 33.17], "nice": false, "zero": false}, "axis": null},
      "y": {"field": "v", "type": "quantitative", "scale": {"domain": [-6.2, 159.7], "nice": false, "zero": false}, "axis": {"title": "PLXDC2 expression", "values": [0,50,100,150], "minExtent": 24, "titlePadding": 5}}
     }},
    {"data": {"name": "bPts"}, "transform": [{"filter": "datum.g == 'T'"}], "mark": {"type": "circle", "size": 36, "opacity": 1, "color": "#EE1111"},
     "encoding": {
      "x": {"field": "j", "type": "quantitative", "scale": {"domain": [-33.17, 12.11], "nice": false, "zero": false}, "axis": null},
      "y": {"field": "v", "type": "quantitative"}
     }},
    {"layer": [
     {"data": {"name": "bBox"}, "mark": {"type": "bar", "fillOpacity": 0, "stroke": "#7a7a7a", "strokeWidth": 1, "width": 49},
      "encoding": {"x": {"field": "g", "type": "nominal", "scale": {"type": "band", "domain": ["N","T"], "paddingInner": 0.05, "paddingOuter": 0.1}, "axis": {"title": null, "labelPadding": 4, "labelExpr": "datum.label == 'N' ? 'Normal' : 'Tumor'"}}, "y": {"field": "q1", "type": "quantitative"}, "y2": {"field": "q3"}}},
     {"data": {"name": "bBox"}, "mark": {"type": "tick", "color": "#7a7a7a", "thickness": 1, "size": 49, "opacity": 1},
      "encoding": {"x": {"field": "g", "type": "nominal"}, "y": {"field": "med", "type": "quantitative"}}},
     {"data": {"name": "bBox"}, "mark": {"type": "rule", "color": "#7a7a7a", "strokeWidth": 1},
      "encoding": {"x": {"field": "g", "type": "nominal"}, "y": {"field": "q3", "type": "quantitative"}, "y2": {"field": "hi"}}},
     {"data": {"values": [{"g":"N","v":10.6}]}, "mark": {"type": "tick", "color": "#7a7a7a", "thickness": 1, "size": 49, "opacity": 1},
      "encoding": {"x": {"field": "g", "type": "nominal"}, "y": {"field": "v", "type": "quantitative"}}}
    ]}
   ]
  }
 ],
 "columns": 3,
 "align": "none",
 "spacing": 12,
 "resolve": {"scale": {"color": "independent", "fill": "independent", "stroke": "independent"}}
},
{
 "concat": [
  {
   "vconcat": [
    {"width": 1, "height": 6, "data": {"values": []}, "mark": "point", "view": {"stroke": null}},
    {
     "width": 288, "height": 227,
     "layer": [
      {"data": {"name": "cBox"}, "mark": {"type": "bar", "stroke": "#222222", "strokeWidth": 0.8, "width": 65},
       "encoding": {
        "x": {"field": "g", "type": "nominal", "scale": {"type": "band", "paddingInner": 0.5, "paddingOuter": 0.358}, "axis": {"title": null, "labelPadding": 1.5}},
        "y": {"field": "q1", "type": "quantitative", "scale": {"domain": [-0.26, 15.49], "nice": false, "zero": false}, "axis": {"title": "PLXDC2 expression", "values": [0,5,10,15], "titlePadding": 3.5}},
        "y2": {"field": "q3"},
        "fill": {"field": "g", "type": "nominal", "scale": {"domain": ["Normal","Tumor"], "range": ["#0B3088", "#DF8B0A"]},
                 "legend": {"title": "Condition", "orient": "none", "legendX": 0, "legendY": 250, "direction": "vertical", "symbolType": "square", "symbolSize": 81, "symbolStrokeColor": "#222222", "symbolStrokeWidth": 0.8}}
       }},
      {"data": {"name": "cBox"}, "mark": {"type": "tick", "color": "#111111", "thickness": 1, "size": 65, "opacity": 1},
       "encoding": {"x": {"field": "g", "type": "nominal"}, "y": {"field": "med", "type": "quantitative"}}},
      {"data": {"name": "cPts"}, "mark": {"type": "line", "color": "#111111", "strokeWidth": 0.8},
       "encoding": {"x": {"field": "g", "type": "nominal"}, "y": {"field": "v", "type": "quantitative"}, "detail": {"field": "p", "type": "nominal"}}},
      {"data": {"name": "cPts"}, "mark": {"type": "circle", "color": "#111111", "size": 14, "opacity": 1},
       "encoding": {"x": {"field": "g", "type": "nominal"}, "y": {"field": "v", "type": "quantitative"}}},
      {"data": {"values": [{"lab": "p = 0.77", "v": 14.6}]}, "mark": {"type": "text", "fontSize": 11.5, "color": "#222222"},
       "encoding": {"y": {"field": "v", "type": "quantitative"}, "text": {"field": "lab"}}}
     ]
    }
   ],
   "spacing": 0,
   "title": {"text": "(c)", "orient": "bottom", "offset": 7, "anchor": "middle"},
   "resolve": {"scale": {"color": "independent", "fill": "independent", "stroke": "independent"}}
  },
  {
   "vconcat": [
    {
     "width": 275, "height": 146,
     "layer": [
      {"data": {"name": "kmBand"}, "mark": {"type": "area", "interpolate": "step-after"},
       "encoding": {
        "x": {"field": "t", "type": "quantitative", "scale": {"domain": [-0.52, 10.15], "nice": false, "zero": false}, "axis": {"title": "Time (years)", "values": [0,1,2,3,4,5,6,7,8,9,10], "labelPadding": 3, "titlePadding": 5}},
        "y": {"field": "lo", "type": "quantitative", "stack": null, "scale": {"domain": [-0.05, 1.053], "nice": false, "zero": false}, "axis": {"title": "Survival probability", "values": [0,0.25,0.5,0.75,1], "format": ".2f", "minExtent": 23, "titlePadding": 12}},
        "y2": {"field": "hi"},
        "fill": {"field": "g", "type": "nominal", "scale": {"domain": ["High","Low"], "range": ["rgba(236,40,40,0.58)", "rgba(37,37,138,0.64)"]},
                 "legend": {"title": "PLXDC2", "orient": "none", "legendX": 0, "legendY": 186, "direction": "vertical", "symbolType": "square", "symbolSize": 81, "rowPadding": 5.5}}
       }},
      {"data": {"name": "km"}, "mark": {"type": "line", "interpolate": "step-after", "strokeWidth": 1.2},
       "encoding": {
        "x": {"field": "t", "type": "quantitative"},
        "y": {"field": "s", "type": "quantitative"},
        "stroke": {"field": "g", "type": "nominal", "scale": {"domain": ["High","Low"], "range": ["#E8191F", "#1B2B7C"]},
                   "legend": {"title": "PLXDC2", "orient": "none", "legendX": 0, "legendY": 186, "direction": "vertical", "symbolType": "square", "symbolSize": 81, "rowPadding": 5.5}}
       }},
      {"data": {"name": "kcH"}, "mark": {"type": "point", "shape": "M-1,0H1M0,-1V1", "size": 28, "filled": false, "strokeWidth": 1, "color": "#E8191F", "opacity": 1},
       "encoding": {"x": {"field": "t", "type": "quantitative"}, "y": {"field": "s", "type": "quantitative"}}},
      {"data": {"name": "kcL"}, "mark": {"type": "point", "shape": "M-1,0H1M0,-1V1", "size": 28, "filled": false, "strokeWidth": 1, "color": "#1B2B7C", "opacity": 1},
       "encoding": {"x": {"field": "t", "type": "quantitative"}, "y": {"field": "s", "type": "quantitative"}}},
      {"data": {"values": [{"t": 0, "s": 0.07, "lab": "p = 0.039"}]}, "mark": {"type": "text", "align": "left", "fontSize": 12, "color": "#222222"},
       "encoding": {"x": {"field": "t", "type": "quantitative"}, "y": {"field": "s", "type": "quantitative"}, "text": {"field": "lab"}}}
     ]
    },
    {
     "width": 275, "height": 22,
     "data": {"name": "risk"},
     "mark": {"type": "text", "fontSize": 11, "color": "#222222"},
     "encoding": {
      "x": {"field": "t", "type": "quantitative", "scale": {"domain": [-0.52, 10.15], "nice": false, "zero": false}, "axis": {"title": "Time (years)", "values": [0,1,2,3,4,5,6,7,8,9,10], "labelPadding": 2, "titlePadding": 6.5}},
      "y": {"field": "g", "type": "nominal", "sort": ["High","Low"], "scale": {"paddingInner": 0, "paddingOuter": 0}, "axis": {"title": "PLXDC2", "titlePadding": 6.5, "labelFontSize": 11.5, "labelColor": {"condition": {"test": "datum.value === 'High'", "value": "#E8191F"}, "value": "#1B2B7C"}}},
      "text": {"field": "n", "type": "quantitative"}
     }
    }
   ],
   "spacing": 0,
   "title": {"text": "(d)", "orient": "bottom", "offset": 9, "anchor": "middle"},
   "resolve": {"scale": {"color": "independent", "fill": "independent", "stroke": "independent"}}
  }
 ],
 "columns": 2,
 "align": "none",
 "spacing": 3.5,
 "resolve": {"scale": {"color": "independent", "fill": "independent", "stroke": "independent"}}
},
{
 "concat": [
  {
   "width": 288, "height": 224,
   "title": {"text": "(e)", "orient": "bottom", "offset": 4},
   "resolve": {"scale": {"x": "independent"}},
   "layer": [
    {"layer": [
     {"data": {"name": "eBox"}, "mark": {"type": "rule", "strokeWidth": 1},
      "encoding": {
       "x": {"field": "s", "type": "nominal", "scale": {"type": "band", "paddingInner": 0.3, "paddingOuter": 0.25}, "axis": {"title": "Stage", "labelExpr": "'Stage ' + datum.label", "labelPadding": 2.5, "titlePadding": 5.5}},
       "y": {"field": "lo", "type": "quantitative", "scale": {"domain": [-2, 53.73], "nice": false, "zero": false}, "axis": {"title": "PLXDC2 expression", "values": [0,10,20,30,40,50], "minExtent": 21, "titlePadding": 5}},
       "y2": {"field": "hi"},
       "color": {"field": "s", "type": "nominal", "scale": {"range": ["#E8262B", "#2F6D10", "#12898C", "#6A3A8D"]}, "legend": null}
      }},
     {"data": {"name": "eBox"}, "mark": {"type": "bar", "fill": "white", "strokeWidth": 1, "width": 48},
      "encoding": {"x": {"field": "s", "type": "nominal"}, "y": {"field": "q1", "type": "quantitative"}, "y2": {"field": "q3"},
       "stroke": {"field": "s", "type": "nominal", "scale": {"domain": ["I","II","III","IV"], "range": ["#E8262B", "#2F6D10", "#12898C", "#6A3A8D"]},
                  "legend": {"title": "Stage", "orient": "none", "legendX": -1, "legendY": 259, "columns": 2, "columnPadding": 4, "rowPadding": 5, "symbolType": "M-1,-0.6H1V0.6H-1Z M-1,0H1 M0,-1V-0.6 M0,0.6V1", "symbolSize": 100, "symbolFillColor": "white", "labelExpr": "'Stage ' + datum.label"}}}},
     {"data": {"name": "eBox"}, "mark": {"type": "tick", "thickness": 1, "size": 48, "opacity": 1},
      "encoding": {"x": {"field": "s", "type": "nominal"}, "y": {"field": "med", "type": "quantitative"},
       "color": {"field": "s", "type": "nominal", "legend": null}}},
     {"data": {"name": "eBr"}, "mark": {"type": "rule", "color": "#444444", "strokeWidth": 0.9},
      "encoding": {"x": {"field": "a", "type": "nominal"}, "x2": {"field": "b"}, "y": {"field": "y", "type": "quantitative"}}},
     {"data": {"name": "eBr"}, "mark": {"type": "rule", "color": "#444444", "strokeWidth": 0.9},
      "encoding": {"x": {"field": "a", "type": "nominal"}, "y": {"field": "yb", "type": "quantitative"}, "y2": {"field": "y"}}},
     {"data": {"name": "eBr"}, "mark": {"type": "rule", "color": "#444444", "strokeWidth": 0.9},
      "encoding": {"x": {"field": "b", "type": "nominal"}, "y": {"field": "yb", "type": "quantitative"}, "y2": {"field": "y"}}},
     {"data": {"name": "eBr"}, "transform": [{"filter": "datum.k == 'c'"}], "mark": {"type": "text", "baseline": "bottom", "dy": -1, "fontSize": 11, "color": "#222222"},
      "encoding": {"x": {"field": "c", "type": "nominal", "bandPosition": 0.5}, "y": {"field": "y", "type": "quantitative"}, "text": {"field": "lab"}}},
     {"data": {"name": "eBr"}, "transform": [{"filter": "datum.k == 'm'"}], "mark": {"type": "text", "baseline": "bottom", "dy": -1, "fontSize": 11, "color": "#222222"},
      "encoding": {"x": {"field": "c", "type": "nominal", "bandPosition": 1.2143}, "y": {"field": "y", "type": "quantitative"}, "text": {"field": "lab"}}}
    ]},
    {"data": {"name": "pt"}, "transform": [{"filter": "datum.s == 'I'"}], "mark": {"type": "circle", "size": 22, "opacity": 1, "color": "#E8262B"},
     "encoding": {"x": {"field": "j", "type": "quantitative", "scale": {"domain": [-16.457, 98.743], "nice": false, "zero": false}, "axis": null}, "y": {"field": "v", "type": "quantitative"}}},
    {"data": {"name": "pt"}, "transform": [{"filter": "datum.s == 'II'"}], "mark": {"type": "circle", "size": 22, "opacity": 1, "color": "#2F6D10"},
     "encoding": {"x": {"field": "j", "type": "quantitative", "scale": {"domain": [-43.886, 71.314], "nice": false, "zero": false}, "axis": null}, "y": {"field": "v", "type": "quantitative"}}},
    {"data": {"name": "pt"}, "transform": [{"filter": "datum.s == 'III'"}], "mark": {"type": "circle", "size": 22, "opacity": 1, "color": "#12898C"},
     "encoding": {"x": {"field": "j", "type": "quantitative", "scale": {"domain": [-71.314, 43.886], "nice": false, "zero": false}, "axis": null}, "y": {"field": "v", "type": "quantitative"}}},
    {"data": {"name": "pt"}, "transform": [{"filter": "datum.s == 'IV'"}], "mark": {"type": "circle", "size": 22, "opacity": 1, "color": "#6A3A8D"},
     "encoding": {"x": {"field": "j", "type": "quantitative", "scale": {"domain": [-98.743, 16.457], "nice": false, "zero": false}, "axis": null}, "y": {"field": "v", "type": "quantitative"}}}
   ]
  },
  {
   "width": 288, "height": 224,
   "title": {"text": "(f)", "orient": "bottom", "offset": 4},
   "resolve": {"scale": {"x": "independent"}},
   "layer": [
    {"layer": [
     {"data": {"name": "fBox"}, "mark": {"type": "rule", "strokeWidth": 1},
      "encoding": {
       "x": {"field": "t", "type": "nominal", "scale": {"type": "band", "paddingInner": 0.3, "paddingOuter": 0.25}, "axis": {"title": "T", "labelExpr": "'T' + datum.label", "labelPadding": 2.5, "titlePadding": 5.5}},
       "y": {"field": "lo", "type": "quantitative", "scale": {"domain": [-2.1, 53.6], "nice": false, "zero": false}, "axis": {"title": "PLXDC2 expression", "values": [0,10,20,30,40,50], "minExtent": 20, "titlePadding": 5.3}},
       "y2": {"field": "hi"},
       "color": {"field": "t", "type": "nominal", "scale": {"range": ["#E8262B", "#2F6D10", "#12898C", "#6A3A8D"]}, "legend": null}
      }},
     {"data": {"name": "fBox"}, "mark": {"type": "bar", "fill": "white", "strokeWidth": 1, "width": 48},
      "encoding": {"x": {"field": "t", "type": "nominal"}, "y": {"field": "q1", "type": "quantitative"}, "y2": {"field": "q3"},
       "stroke": {"field": "t", "type": "nominal", "scale": {"domain": [1,2,3,4], "range": ["#E8262B", "#2F6D10", "#12898C", "#6A3A8D"]},
                  "legend": {"title": "T", "orient": "none", "legendX": 0, "legendY": 259, "columns": 2, "columnPadding": 9, "rowPadding": 5, "symbolType": "M-1,-0.6H1V0.6H-1Z M-1,0H1 M0,-1V-0.6 M0,0.6V1", "symbolSize": 100, "symbolFillColor": "white", "labelExpr": "'T' + datum.label"}}}},
     {"data": {"name": "fBox"}, "mark": {"type": "tick", "thickness": 1, "size": 48, "opacity": 1},
      "encoding": {"x": {"field": "t", "type": "nominal"}, "y": {"field": "med", "type": "quantitative"},
       "color": {"field": "t", "type": "nominal", "legend": null}}},
     {"data": {"name": "fBr"}, "mark": {"type": "rule", "color": "#444444", "strokeWidth": 0.9},
      "encoding": {"x": {"field": "a", "type": "nominal"}, "x2": {"field": "b"}, "y": {"field": "y", "type": "quantitative"}}},
     {"data": {"name": "fBr"}, "mark": {"type": "rule", "color": "#444444", "strokeWidth": 0.9},
      "encoding": {"x": {"field": "a", "type": "nominal"}, "y": {"field": "yb", "type": "quantitative"}, "y2": {"field": "y"}}},
     {"data": {"name": "fBr"}, "mark": {"type": "rule", "color": "#444444", "strokeWidth": 0.9},
      "encoding": {"x": {"field": "b", "type": "nominal"}, "y": {"field": "yb", "type": "quantitative"}, "y2": {"field": "y"}}},
     {"data": {"name": "fBr"}, "transform": [{"filter": "datum.k == 'c'"}], "mark": {"type": "text", "baseline": "bottom", "dy": -1, "fontSize": 11, "color": "#222222"},
      "encoding": {"x": {"field": "c", "type": "nominal", "bandPosition": 0.5}, "y": {"field": "y", "type": "quantitative"}, "text": {"field": "lab"}}},
     {"data": {"name": "fBr"}, "transform": [{"filter": "datum.k == 'm'"}], "mark": {"type": "text", "baseline": "bottom", "dy": -1, "fontSize": 11, "color": "#222222"},
      "encoding": {"x": {"field": "c", "type": "nominal", "bandPosition": 1.2143}, "y": {"field": "y", "type": "quantitative"}, "text": {"field": "lab"}}}
    ]},
    {"data": {"name": "pt"}, "transform": [{"filter": "datum.t == 1"}], "mark": {"type": "circle", "size": 22, "opacity": 1, "color": "#E8262B"},
     "encoding": {"x": {"field": "j", "type": "quantitative", "scale": {"domain": [-16.457, 98.743], "nice": false, "zero": false}, "axis": null}, "y": {"field": "v", "type": "quantitative"}}},
    {"data": {"name": "pt"}, "transform": [{"filter": "datum.t == 2"}], "mark": {"type": "circle", "size": 22, "opacity": 1, "color": "#2F6D10"},
     "encoding": {"x": {"field": "j", "type": "quantitative", "scale": {"domain": [-43.886, 71.314], "nice": false, "zero": false}, "axis": null}, "y": {"field": "v", "type": "quantitative"}}},
    {"data": {"name": "pt"}, "transform": [{"filter": "datum.t == 3"}], "mark": {"type": "circle", "size": 22, "opacity": 1, "color": "#12898C"},
     "encoding": {"x": {"field": "j", "type": "quantitative", "scale": {"domain": [-71.314, 43.886], "nice": false, "zero": false}, "axis": null}, "y": {"field": "v", "type": "quantitative"}}},
    {"data": {"name": "pt"}, "transform": [{"filter": "datum.t == 4"}], "mark": {"type": "circle", "size": 22, "opacity": 1, "color": "#6A3A8D"},
     "encoding": {"x": {"field": "j", "type": "quantitative", "scale": {"domain": [-98.743, 16.457], "nice": false, "zero": false}, "axis": null}, "y": {"field": "v", "type": "quantitative"}}}
   ]
  }
 ],
 "columns": 2,
 "align": "none",
 "spacing": 12.5,
 "resolve": {"scale": {"color": "independent", "fill": "independent", "stroke": "independent"}}
},
{
 "concat": [
  {
   "vconcat": [
    {"width": 1, "height": 10, "data": {"values": []}, "mark": "point", "view": {"stroke": null}},
    {
     "width": 288, "height": 227,
     "resolve": {"scale": {"x": "independent"}},
     "layer": [
      {"layer": [
       {"data": {"name": "gBox"}, "mark": {"type": "rule", "strokeWidth": 1},
        "encoding": {
         "x": {"field": "m", "type": "nominal", "scale": {"type": "band", "paddingInner": 0.295, "paddingOuter": 0.245}, "axis": {"title": "M", "labelExpr": "'M' + datum.label", "labelPadding": 2.5}},
         "y": {"field": "lo", "type": "quantitative", "scale": {"domain": [-1.4, 34.3], "nice": false, "zero": false}, "axis": {"title": "PLXDC2 expression", "values": [0,10,20,30], "minExtent": 21, "titlePadding": 5}},
         "y2": {"field": "hi"},
         "color": {"field": "m", "type": "nominal", "scale": {"domain": [0,1], "range": ["#E8262B", "#12898C"]}, "legend": null}
        }},
       {"data": {"name": "gBox"}, "mark": {"type": "bar", "fill": "white", "strokeWidth": 1, "width": 92},
        "encoding": {"x": {"field": "m", "type": "nominal"}, "y": {"field": "q1", "type": "quantitative"}, "y2": {"field": "q3"},
         "stroke": {"field": "m", "type": "nominal", "scale": {"domain": [0,1], "range": ["#E8262B", "#12898C"]}, "legend": null}}},
       {"data": {"name": "gBox"}, "mark": {"type": "tick", "thickness": 1, "size": 92, "opacity": 1},
        "encoding": {"x": {"field": "m", "type": "nominal"}, "y": {"field": "med", "type": "quantitative"},
         "color": {"field": "m", "type": "nominal", "legend": null}}},
       {"data": {"name": "gBr"}, "mark": {"type": "rule", "color": "#444444", "strokeWidth": 0.9},
        "encoding": {"x": {"field": "a", "type": "nominal"}, "x2": {"field": "b"}, "y": {"field": "y", "type": "quantitative"}}},
       {"data": {"name": "gBr"}, "mark": {"type": "rule", "color": "#444444", "strokeWidth": 0.9},
        "encoding": {"x": {"field": "a", "type": "nominal"}, "y": {"field": "yb", "type": "quantitative"}, "y2": {"field": "y"}}},
       {"data": {"name": "gBr"}, "mark": {"type": "rule", "color": "#444444", "strokeWidth": 0.9},
        "encoding": {"x": {"field": "b", "type": "nominal"}, "y": {"field": "yb", "type": "quantitative"}, "y2": {"field": "y"}}},
       {"data": {"name": "gBr"}, "mark": {"type": "text", "baseline": "bottom", "dy": -1, "fontSize": 11, "color": "#222222"},
        "encoding": {"x": {"field": "c", "type": "nominal", "bandPosition": 1.209}, "y": {"field": "y", "type": "quantitative"}, "text": {"field": "lab"}}}
      ]},
      {"data": {"name": "pt"}, "transform": [{"filter": "datum.m == 0"}], "mark": {"type": "circle", "size": 22, "opacity": 1, "color": "#E8262B"},
       "encoding": {"x": {"field": "j", "type": "quantitative", "scale": {"domain": [-26.13, 69.87], "nice": false, "zero": false}, "axis": null}, "y": {"field": "v", "type": "quantitative"}}},
      {"data": {"name": "pt"}, "transform": [{"filter": "datum.m == 1"}], "mark": {"type": "circle", "size": 22, "opacity": 1, "color": "#12898C"},
       "encoding": {"x": {"field": "j", "type": "quantitative", "scale": {"domain": [-69.87, 26.13], "nice": false, "zero": false}, "axis": null}, "y": {"field": "v", "type": "quantitative"}}}
     ]
    }
   ],
   "spacing": 0,
   "resolve": {"scale": {"color": "independent", "fill": "independent", "stroke": "independent"}}
  },
  {
   "width": 288, "height": 226,
   "resolve": {"scale": {"x": "independent"}},
   "layer": [
    {"layer": [
     {"data": {"name": "hBox"}, "mark": {"type": "rule", "strokeWidth": 1},
      "encoding": {
       "x": {"field": "n", "type": "nominal", "scale": {"type": "band", "paddingInner": 0.3, "paddingOuter": 0.25}, "axis": {"title": "N", "labelExpr": "'N' + datum.label", "labelPadding": 2.5}},
       "y": {"field": "lo", "type": "quantitative", "scale": {"domain": [-2.1, 54.1], "nice": false, "zero": false}, "axis": {"title": "PLXDC2 expression", "values": [0,10,20,30,40,50], "minExtent": 20, "titlePadding": 5.3}},
       "y2": {"field": "hi"},
       "color": {"field": "n", "type": "nominal", "scale": {"range": ["#E8262B", "#2F6D10", "#12898C", "#6A3A8D"]}, "legend": null}
      }},
     {"data": {"name": "hBox"}, "mark": {"type": "bar", "fill": "white", "strokeWidth": 1, "width": 48},
      "encoding": {"x": {"field": "n", "type": "nominal"}, "y": {"field": "q1", "type": "quantitative"}, "y2": {"field": "q3"},
       "stroke": {"field": "n", "type": "nominal", "scale": {"range": ["#E8262B", "#2F6D10", "#12898C", "#6A3A8D"]}, "legend": null}}},
     {"data": {"name": "hBox"}, "mark": {"type": "tick", "thickness": 1, "size": 48, "opacity": 1},
      "encoding": {"x": {"field": "n", "type": "nominal"}, "y": {"field": "med", "type": "quantitative"},
       "color": {"field": "n", "type": "nominal", "legend": null}}},
     {"data": {"name": "hBr"}, "mark": {"type": "rule", "color": "#444444", "strokeWidth": 0.9},
      "encoding": {"x": {"field": "a", "type": "nominal"}, "x2": {"field": "b"}, "y": {"field": "y", "type": "quantitative"}}},
     {"data": {"name": "hBr"}, "mark": {"type": "rule", "color": "#444444", "strokeWidth": 0.9},
      "encoding": {"x": {"field": "a", "type": "nominal"}, "y": {"field": "yb", "type": "quantitative"}, "y2": {"field": "y"}}},
     {"data": {"name": "hBr"}, "mark": {"type": "rule", "color": "#444444", "strokeWidth": 0.9},
      "encoding": {"x": {"field": "b", "type": "nominal"}, "y": {"field": "yb", "type": "quantitative"}, "y2": {"field": "y"}}},
     {"data": {"name": "hBr"}, "transform": [{"filter": "datum.k == 'c'"}], "mark": {"type": "text", "baseline": "bottom", "dy": -1, "fontSize": 11, "color": "#222222"},
      "encoding": {"x": {"field": "c", "type": "nominal", "bandPosition": 0.5}, "y": {"field": "y", "type": "quantitative"}, "text": {"field": "lab"}}},
     {"data": {"name": "hBr"}, "transform": [{"filter": "datum.k == 'm'"}], "mark": {"type": "text", "baseline": "bottom", "dy": -1, "fontSize": 11, "color": "#222222"},
      "encoding": {"x": {"field": "c", "type": "nominal", "bandPosition": 1.2143}, "y": {"field": "y", "type": "quantitative"}, "text": {"field": "lab"}}}
    ]},
    {"data": {"name": "pt"}, "transform": [{"filter": "datum.n == 0"}], "mark": {"type": "circle", "size": 22, "opacity": 1, "color": "#E8262B"},
     "encoding": {"x": {"field": "j", "type": "quantitative", "scale": {"domain": [-16.457, 98.743], "nice": false, "zero": false}, "axis": null}, "y": {"field": "v", "type": "quantitative"}}},
    {"data": {"name": "pt"}, "transform": [{"filter": "datum.n == 1"}], "mark": {"type": "circle", "size": 22, "opacity": 1, "color": "#2F6D10"},
     "encoding": {"x": {"field": "j", "type": "quantitative", "scale": {"domain": [-43.886, 71.314], "nice": false, "zero": false}, "axis": null}, "y": {"field": "v", "type": "quantitative"}}},
    {"data": {"name": "pt"}, "transform": [{"filter": "datum.n == 2"}], "mark": {"type": "circle", "size": 22, "opacity": 1, "color": "#12898C"},
     "encoding": {"x": {"field": "j", "type": "quantitative", "scale": {"domain": [-71.314, 43.886], "nice": false, "zero": false}, "axis": null}, "y": {"field": "v", "type": "quantitative"}}},
    {"data": {"name": "pt"}, "transform": [{"filter": "datum.n == 3"}], "mark": {"type": "circle", "size": 22, "opacity": 1, "color": "#6A3A8D"},
     "encoding": {"x": {"field": "j", "type": "quantitative", "scale": {"domain": [-98.743, 16.457], "nice": false, "zero": false}, "axis": null}, "y": {"field": "v", "type": "quantitative"}}}
   ]
  }
 ],
 "columns": 2,
 "align": "none",
 "spacing": 12.5,
 "resolve": {"scale": {"color": "independent", "fill": "independent", "stroke": "independent"}}
}
]
}
